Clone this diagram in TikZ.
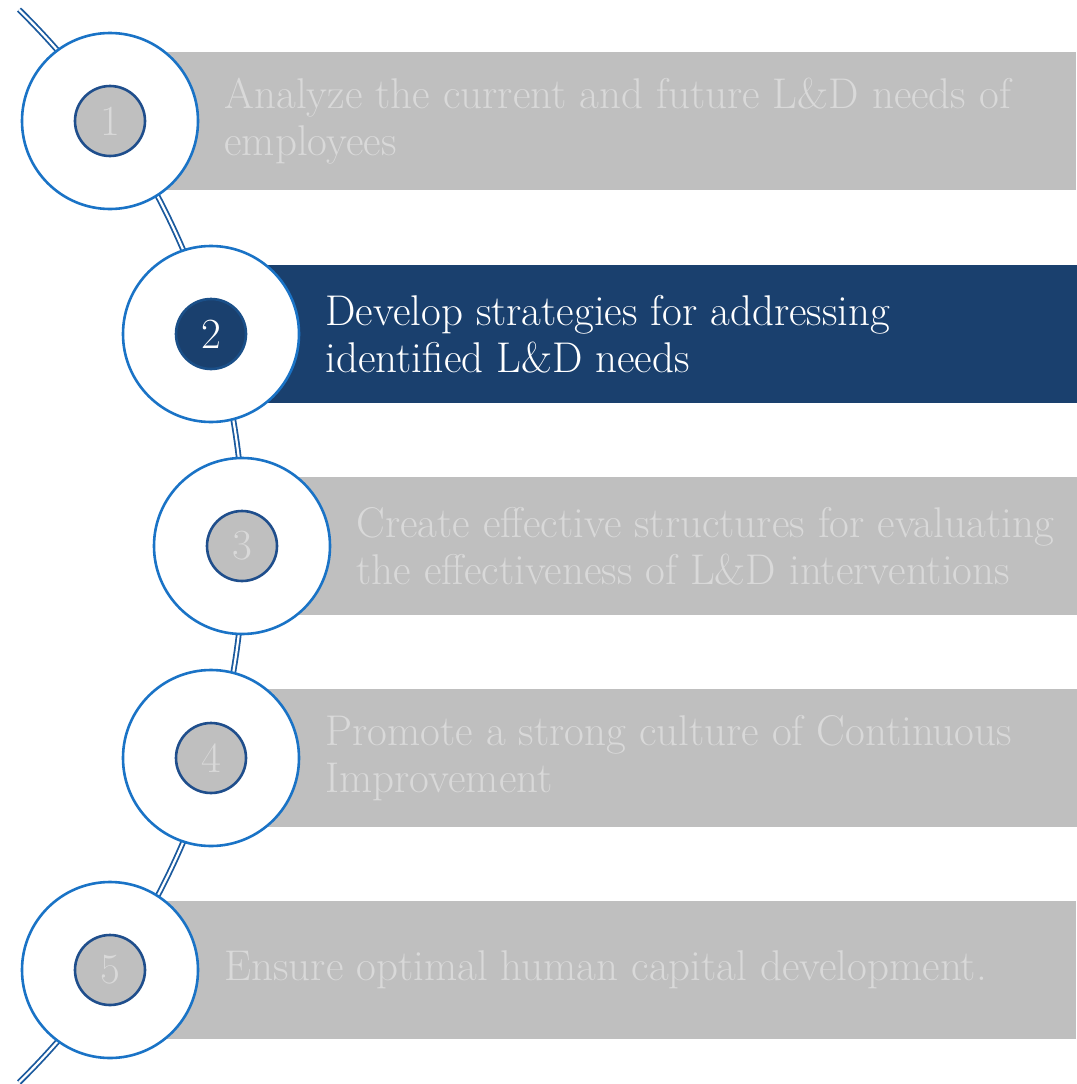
\documentclass[tikz,border=0pt]{standalone}
\usepackage{fontspec}
\usetikzlibrary{positioning}
\definecolor{ringblue}{HTML}{1A73C6}
\definecolor{trackblue}{HTML}{1B5A9E}
\definecolor{dotedge}{HTML}{1F4E8C}
\definecolor{rnavy}{HTML}{1A406E}
\definecolor{rbar}{HTML}{BFBFBF}
\definecolor{rtext}{HTML}{D9D9D9}

\begin{document}
\begin{tikzpicture}[
  x=1pt,y=-1pt,
  every node/.style={font=\fontsize{43}{47}\selectfont},
  bar/.style={fill=rbar,minimum width=966pt,minimum height=138pt,anchor=west,inner sep=0pt},
  hibar/.style={bar,fill=rnavy},
  ring/.style={circle,draw=ringblue,line width=2.6pt,fill=white,minimum size=176pt,inner sep=0pt},
  dot/.style={circle,draw=dotedge,line width=2.6pt,fill=rbar,text=rtext,minimum size=70pt,inner sep=0pt},
  hidot/.style={dot,fill=rnavy,draw=rnavy!70!ringblue,text=white},
  txt/.style={align=left,text=rtext,inner sep=0pt},
  hitxt/.style={txt,text=white},
  track/.style={draw=trackblue,line width=1.8pt,double=white,double distance=2.2pt}
]
\useasboundingbox (0,0) rectangle (1076,1084);

\node[bar] (bar1) at (110,121) {};
\node[hibar] (bar2) at (211,334) {};
\node[bar] (bar3) at (242,546) {};
\node[bar] (bar4) at (211,758) {};
\node[bar] (bar5) at (110,970) {};

\coordinate (hub) at (-508,546);
\draw[track] (hub) ++(45.5:752pt) arc[start angle=45.5,end angle=-45.5,radius=752pt];

\node[ring] (ring1) at (110,121) {};
\node[ring] (ring2) at (211,334) {};
\node[ring] (ring3) at (242,546) {};
\node[ring] (ring4) at (211,758) {};
\node[ring] (ring5) at (110,970) {};

\node[dot] (dot1) at (ring1) {1};
\node[hidot] (dot2) at (ring2) {2};
\node[dot] (dot3) at (ring3) {3};
\node[dot] (dot4) at (ring4) {4};
\node[dot] (dot5) at (ring5) {5};

\node[txt,right=78pt of dot1] (txt1) {Analyze the current and future L\&D needs of\\employees};
\node[hitxt,right=78pt of dot2] (txt2) {Develop strategies for addressing\\identified L\&D needs};
\node[txt,right=78pt of dot3] (txt3) {Create effective structures for evaluating\\the effectiveness of L\&D interventions};
\node[txt,right=78pt of dot4] (txt4) {Promote a strong culture of Continuous\\Improvement};
\node[txt,right=78pt of dot5] (txt5) {Ensure optimal human capital development.};
\end{tikzpicture}
\end{document}
